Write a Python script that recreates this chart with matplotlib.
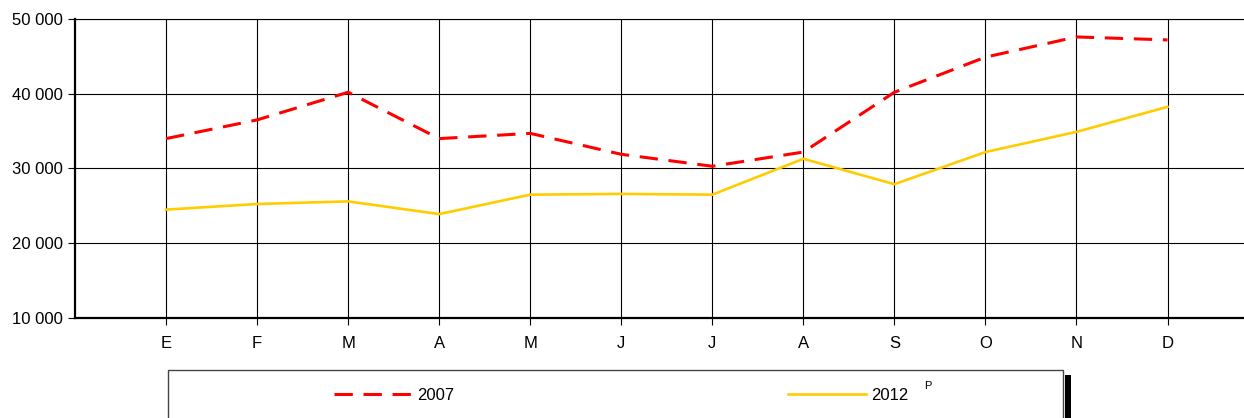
import matplotlib
matplotlib.use("Agg")
import matplotlib.pyplot as plt
from matplotlib.patches import Rectangle
from matplotlib.ticker import FuncFormatter

plt.rcParams['font.family'] = ['Liberation Sans', 'DejaVu Sans']

# monthly values
meses = ["E", "F", "M", "A", "M", "J", "J", "A", "S", "O", "N", "D"]
serie_2007 = [34000, 36500, 40200, 34000, 34700, 31900, 30300, 32200, 40200, 44900, 47600, 47200]
serie_2012 = [24500, 25250, 25600, 23900, 26500, 26600, 26500, 31300, 27900, 32200, 34900, 38250]

W, H = 1244, 418
fig = plt.figure(figsize=(W / 100, H / 100), dpi=100)
ax = fig.add_axes([75 / W, 1 - 318 / H, 1 - 75 / W, (318 - 19) / H])

x = list(range(1, 13))
l1, = ax.plot(x, serie_2007, color="#ff0000", lw=2.2, dashes=(6, 3.5), label="2007")
l2, = ax.plot(x, serie_2012, color="#ffcc00", lw=1.9, label="2012")

ax.set_xlim(0, 12.84)
ax.set_ylim(10000, 50000)
ax.set_yticks([10000, 20000, 30000, 40000, 50000])
ax.yaxis.set_major_formatter(FuncFormatter(lambda v, p: f"{int(v):,}".replace(",", " ")))
ax.set_xticks(x)
ax.set_xticklabels(meses)
ax.grid(True, color="black", lw=0.8)
ax.set_axisbelow(True)

ax.spines["right"].set_visible(False)
ax.spines["top"].set_linewidth(0.8)
ax.spines["left"].set_linewidth(1.6)
ax.spines["bottom"].set_linewidth(1.6)
ax.tick_params(axis="both", length=5, width=0.8, labelsize=12, colors="black")
ax.tick_params(axis="x", pad=8)
ax.tick_params(axis="y", pad=4)

# legend box with shadow
fig.patches.append(Rectangle((1065 / W, -0.1), 6 / W, 0.1 + (418 - 375) / H,
                             transform=fig.transFigure, facecolor="black", edgecolor="none"))
fig.patches.append(Rectangle((168 / W, -0.1), (1063 - 168) / W, 0.1 + (418 - 370) / H,
                             transform=fig.transFigure, facecolor="white",
                             edgecolor="#444444", lw=1))

fig.legend(handles=[l1, l2], ncol=2, loc="center left",
           bbox_to_anchor=(334 / W, 1 - 395 / H), frameon=False,
           fontsize=12, handlelength=4.7, handletextpad=0.3,
           columnspacing=20, borderpad=0, borderaxespad=0)
fig.text(928 / W, 1 - 386 / H, "P", fontsize=8, ha="center", va="center")

fig.savefig("out.png", dpi=100)
